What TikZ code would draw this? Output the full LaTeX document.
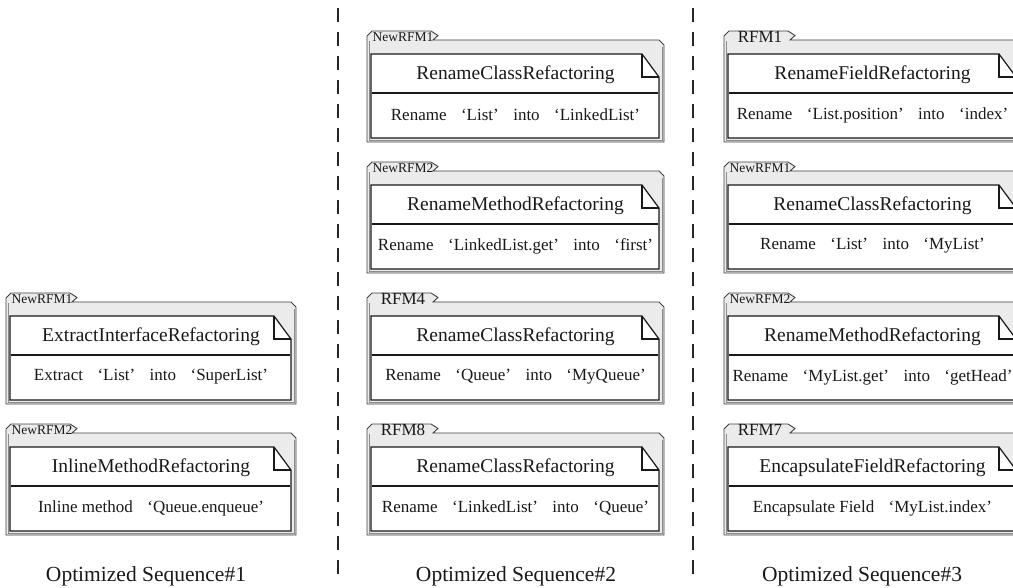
\documentclass[tikz,border=0pt]{standalone}
\usepackage{fontspec}
\setmainfont{Liberation Serif}
\tikzset{
  frame/.style={fill=black!8, draw=black!75, line width=0.9pt, line join=miter},
  frameinset/.style={draw=black!45, line width=0.6pt},
  notebox/.style={fill=white, draw=black!90, line width=1.2pt, line join=miter},
  sepline/.style={draw=black!90, line width=1.2pt},
  tabsmall/.style={font=\fontsize{13.5}{15}\selectfont, text=black!90, inner sep=0pt},
  tabbig/.style={font=\fontsize{17}{19}\selectfont, text=black!90, inner sep=0pt},
  titletext/.style={font=\fontsize{19.5}{22}\selectfont, text=black!90, inner sep=0pt},
  desctext/.style={font=\fontsize{17}{20}\selectfont, text=black!90, inner sep=0pt},
  seqlabel/.style={font=\fontsize{21.5}{25}\selectfont, text=black!90, inner sep=0pt},
  divider/.style={draw=black!85, line width=1.3pt, dash pattern=on 14pt off 10pt}
}
% full-width style quotation marks
\newcommand\qq[1]{\hspace{0.85em}‘#1’}
\newcommand\qqm[1]{\hspace{0.85em}‘#1’\hspace{0.85em}}
% one refactoring frame: name, left x, top y, tab text, tab style, title, description, width
\newcommand\refbox[8]{%
  \draw[frame] (#2,#3+111) -- (#2,#3+5) -- (#2+5,#3) -- (#2+64,#3) -- (#2+71,#3+4.5)
     -- (#2+66,#3+9) -- (#2+#8-5,#3+9) -- (#2+#8,#3+14) -- (#2+#8,#3+111) -- cycle;
  \draw[frameinset] (#2+2,#3+10) -- (#2+2,#3+109) -- (#2+#8-2,#3+109) -- (#2+#8-2,#3+16);
  \draw[notebox] (#2+4,#3+23) -- (#2+#8-22,#3+23) -- (#2+#8-5,#3+46) -- (#2+#8-5,#3+107)
     -- (#2+4,#3+107) -- cycle;
  \draw[notebox,fill=none] (#2+#8-22,#3+23) -- (#2+#8-22,#3+46) -- (#2+#8-5,#3+46);
  \draw[sepline] (#2+5,#3+62) -- (#2+#8-6,#3+62);
  \node[#5] (#1-tab) at (#2+36,#3+6) {#4};
  \node[titletext] (#1-title) at (#2+#8/2,#3+44) {#6};
  \node[desctext] (#1-desc) at (#2+#8/2,#3+84) {#7};
}
\begin{document}
\begin{tikzpicture}[x=1pt,y=-1pt]
  \useasboundingbox (0,0) rectangle (1013,588);
  \clip (0,0) rectangle (1013,588);

  % column dividers
  \coordinate (d1top) at (338,8);
  \coordinate (d1bot) at (338,580);
  \coordinate (d2top) at (693,8);
  \coordinate (d2bot) at (693,580);
  \draw[divider] (d1top) -- (d1bot);
  \draw[divider] (d2top) -- (d2bot);

  % sequence 1
  \refbox{a1}{6}{293}{NewRFM1}{tabsmall}{ExtractInterfaceRefactoring}{Extract\qqm{List}into\qq{SuperList}}{290}
  \refbox{a2}{6}{424}{NewRFM2}{tabsmall}{InlineMethodRefactoring}{Inline method\qq{Queue.enqueue}}{290}

  % sequence 2
  \refbox{b1}{367}{31}{NewRFM1}{tabsmall}{RenameClassRefactoring}{Rename\qqm{List}into\qq{LinkedList}}{297}
  \refbox{b2}{367}{162}{NewRFM2}{tabsmall}{RenameMethodRefactoring}{Rename\qqm{LinkedList.get}into\qq{first}}{297}
  \refbox{b3}{367}{293}{RFM4}{tabbig}{RenameClassRefactoring}{Rename\qqm{Queue}into\qq{MyQueue}}{297}
  \refbox{b4}{367}{424}{RFM8}{tabbig}{RenameClassRefactoring}{Rename\qqm{LinkedList}into\qq{Queue}}{297}

  % sequence 3
  \refbox{c1}{724}{31}{RFM1}{tabbig}{RenameFieldRefactoring}{Rename\qqm{List.position}into\qq{index}}{297}
  \refbox{c2}{724}{162}{NewRFM1}{tabsmall}{RenameClassRefactoring}{Rename\qqm{List}into\qq{MyList}}{297}
  \refbox{c3}{724}{293}{NewRFM2}{tabsmall}{RenameMethodRefactoring}{Rename\qqm{MyList.get}into\qq{getHead}}{297}
  \refbox{c4}{724}{424}{RFM7}{tabbig}{EncapsulateFieldRefactoring}{Encapsulate Field\qq{MyList.index}}{297}

  % captions
  \node[seqlabel] (s1) at (146,576) {Optimized Sequence\#1};
  \node[seqlabel] (s2) at (516,576) {Optimized Sequence\#2};
  \node[seqlabel] (s3) at (862,576) {Optimized Sequence\#3};
\end{tikzpicture}
\end{document}
